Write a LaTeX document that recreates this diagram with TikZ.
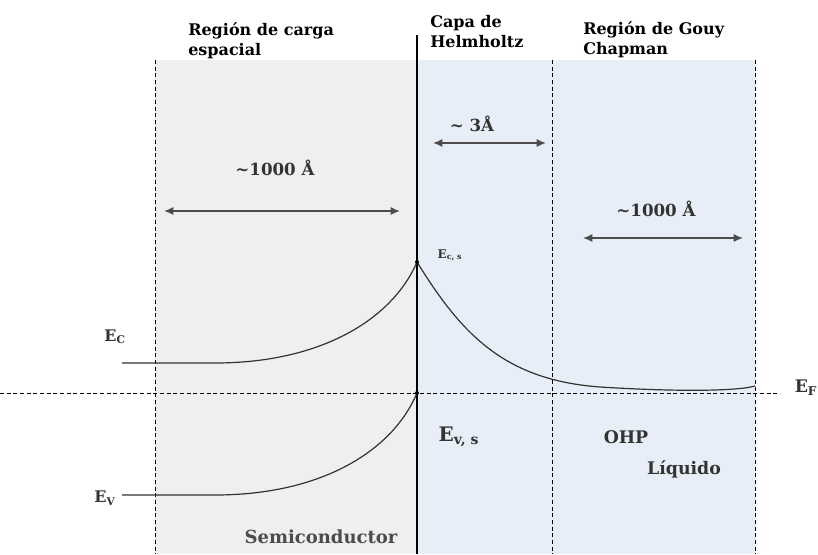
\documentclass[tikz,border=0pt]{standalone}
\usepackage{fontspec}
\setmainfont{DejaVu Serif}
\usetikzlibrary{arrows.meta}
\definecolor{grayreg}{HTML}{EFEFEF}
\definecolor{bluereg}{HTML}{E8EEF8}
\tikzset{
  sep/.style={dash pattern=on 3pt off 2pt, line width=0.6pt},
  dist/.style={{Latex[length=7pt,width=6pt]}-{Latex[length=7pt,width=6pt]}, line width=1.1pt, black!70},
  lbl/.style={font=\bfseries\fontsize{12.5}{14}\selectfont, text=black!80},
  title/.style={font=\bfseries\fontsize{12}{15}\selectfont, align=left, anchor=north west, inner sep=0pt},
  band/.style={line width=0.9pt, black!80},
}
\begin{document}
\begin{tikzpicture}[x=0.75pt,y=-0.75pt]
		\useasboundingbox (0,0) rectangle (818,554);
		\fill[grayreg] (155,60) rectangle (417,554); % semiconductor side
		\fill[bluereg] (417,60) rectangle (755,554); % liquid side
		
		\draw[sep] (155,60) -- (155,554);
		\draw[sep] (552,60) -- (552,554);
		\draw[sep] (755,60) -- (755,554);
		\draw[sep] (0,393) -- (780,393);
		\draw[line width=2pt] (417,35) -- (417,554); % interface
		
		% bands
		\coordinate (ecs) at (417,262);
		\coordinate (evs) at (417,393);
		\draw[band] (122,363) -- (215,363) .. controls (320,363) and (392,320) .. (ecs);
		\draw[band] (122,495) -- (215,495) .. controls (320,495) and (392,452) .. (evs);
		\draw[band] (ecs) .. controls (462,335) and (505,380) .. (600,387) .. controls (680,392) and (738,391) .. (755,386);
		\fill (ecs) circle (1.5pt);
		\fill (evs) circle (1.5pt);
		
		% distances
		\coordinate (a1) at (164,211);
		\coordinate (a2) at (400,211);
		\coordinate (b1) at (433,143);
		\coordinate (b2) at (546,143);
		\coordinate (c1) at (583,238);
		\coordinate (c2) at (743,238);
		\draw[dist] (a1) -- (a2);
		\draw[dist] (b1) -- (b2);
		\draw[dist] (c1) -- (c2);
		\node[lbl] (da) at (275,168) {\textasciitilde1000 Å};
		\node[lbl] (db) at (472,124) {\textasciitilde{} 3Å};
		\node[lbl] (dc) at (656,209) {\textasciitilde1000 Å};
		
		% titles
		\node[title] (t1) at (188,22) {Región de carga\\espacial};
		\node[title] (t2) at (430,15) {Capa de\\Helmholtz};
		\node[title] (t3) at (583,21) {Región de Gouy\\Chapman};
		
		% level labels
		\node[lbl, font=\bfseries\fontsize{12}{13}\selectfont] (ec) at (115,337) {E\textsubscript{C}};
		\node[lbl, font=\bfseries\fontsize{12}{13}\selectfont] (ev) at (105,498) {E\textsubscript{V}};
		\node[lbl, font=\bfseries\fontsize{13}{14}\selectfont] (ef) at (806,388) {E\textsubscript{F}};
		\node[lbl, font=\bfseries\fontsize{9}{10}\selectfont] (lecs) at (450,255) {E\textsubscript{c, s}};
		\node[lbl, font=\bfseries\fontsize{15}{16}\selectfont] (levs) at (459,437) {E\textsubscript{v, s}};
		\node[lbl, font=\bfseries\fontsize{13}{14}\selectfont] (ohp) at (626,437) {OHP};
		\node[lbl, font=\bfseries\fontsize{13}{14}\selectfont] (liq) at (684,469) {Líquido};
		\node[lbl, font=\bfseries\fontsize{13.5}{15}\selectfont, text=black!70] (sc) at (321,537) {Semiconductor};
	\end{tikzpicture}
\end{document}
